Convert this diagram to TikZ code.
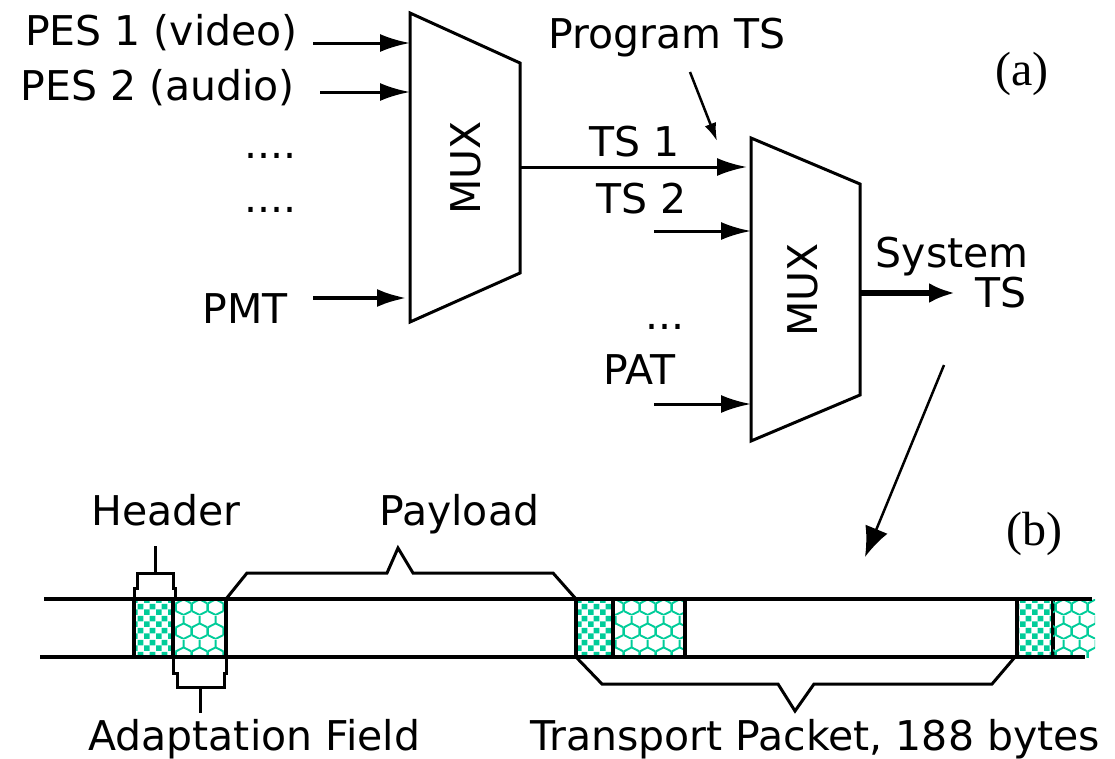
\documentclass[tikz,border=0pt]{standalone}
\usepackage{fontspec}
\setmainfont{DejaVu Sans}
\newfontfamily\partfont{Liberation Serif}
\usetikzlibrary{arrows.meta,patterns.meta}
\definecolor{mint}{RGB}{0,204,153}

\tikzdeclarepattern{
  name=checks,
  type=uncolored,
  bounding box={(0pt,0pt) and (12pt,12pt)},
  tile size={(12pt,12pt)},
  code={
    \fill (0pt,0pt) rectangle (6pt,6pt);
    \fill (6pt,6pt) rectangle (12pt,12pt);
  }
}
\tikzdeclarepattern{
  name=weave,
  type=uncolored,
  bounding box={(0pt,0pt) and (16pt,24pt)},
  tile size={(16pt,24pt)},
  code={
    \draw[line width=2pt] (0pt,4pt) -- (8pt,0pt) -- (16pt,4pt)
      (0pt,12pt) -- (8pt,16pt) -- (16pt,12pt)
      (0pt,4pt) -- (0pt,12pt) (16pt,4pt) -- (16pt,12pt)
      (8pt,16pt) -- (8pt,24pt);
  }
}

\begin{document}
\begin{tikzpicture}[
x=1pt,y=-1pt,
every node/.style={inner sep=0pt,font=\fontsize{41}{49}\selectfont},
feed/.style={line width=3pt,-{Latex[length=30pt,width=18pt]}},
muxbox/.style={line width=3pt,line join=miter},
tag/.style={font=\fontsize{48}{56}\selectfont\partfont},
packet/.style={line width=3.5pt},
brace/.style={line width=3pt},
hdrbox/.style={packet,pattern=checks,pattern color=mint},
adbox/.style={packet,pattern=weave,pattern color=mint},
]
\useasboundingbox (0,0) rectangle (1115,758);

% first MUX
\coordinate (m1nw) at (410,13);
\coordinate (m1ne) at (520,63);
\coordinate (m1se) at (520,273);
\coordinate (m1sw) at (410,322);
\draw[muxbox] (m1nw) -- (m1ne) -- (m1se) -- (m1sw) -- cycle;
\node[rotate=90] (mux1) at (466,168) {MUX};

\node[anchor=base east] (pes1) at (298,45) {PES 1 (video)};
\node[anchor=base east] (pes2) at (295,100) {PES 2 (audio)};
\node[anchor=base east] (dots1) at (297,158) {....};
\node[anchor=base east] (dots2) at (297,212) {....};
\node[anchor=base east] (pmt) at (288,323) {PMT};
\coordinate (pes1in) at (313,43);
\coordinate (pes2in) at (320,92);
\coordinate (pmtin) at (313,298);
\draw[feed] (pes1in) -- (pes1in -| m1nw);
\draw[feed] (pes2in) -- (pes2in -| m1nw);
\draw[feed,line width=4.5pt] (pmtin) -- ([xshift=-3pt]pmtin -| m1nw);

% second MUX
\coordinate (m2nw) at (751,138);
\coordinate (m2ne) at (860,184);
\coordinate (m2se) at (860,395);
\coordinate (m2sw) at (751,441);
\draw[muxbox] (m2nw) -- (m2ne) -- (m2se) -- (m2sw) -- cycle;
\node[rotate=90] (mux2) at (803,290) {MUX};

\node[anchor=base west] (prog) at (548,48) {Program TS};
\node[anchor=base west] (ts1) at (589,156) {TS 1};
\node[anchor=base west] (ts2) at (596,213) {TS 2};
\node[anchor=base west] (dots3) at (645,329) {...};
\node[anchor=base west] (pat) at (603,384) {PAT};
\coordinate (m1out) at (520,167);
\coordinate (ts2in) at (654,231);
\coordinate (patin) at (654,404);
\coordinate (progtail) at (690,72);
\coordinate (progtip) at (717,141);
\draw[feed] (m1out) -- ([xshift=-4pt]m1out -| m2nw);
\draw[feed] (ts2in) -- (ts2in -| m2nw);
\draw[feed] (patin) -- (patin -| m2nw);
\draw[line width=2.5pt,-{Latex[length=18pt,width=12pt]}] (progtail) -- (progtip);

\node[anchor=base east] (sys) at (1029,267) {System};
\node[anchor=base east] (systs) at (1027,307) {TS};
\coordinate (m2out) at (860,293);
\coordinate (sysin) at (955,293);
\draw[line width=5.5pt,-{Latex[length=26pt,width=20pt]}] (m2out) -- (sysin);

\coordinate (drop) at (944,365);
\coordinate (droptip) at (865,557);
\draw[line width=2.5pt,-{Latex[length=30pt,width=24pt]}] (drop) -- (droptip);

\node[tag,anchor=base west] (parta) at (995,85) {(a)};
\node[tag,anchor=base west] (partb) at (1006,545) {(b)};

% transport stream
\foreach \a/\b/\c in {134/173/226, 576/613/685}{
  \draw[hdrbox] (\a,599) rectangle (\b,657);
  \draw[adbox] (\b,599) rectangle (\c,657);
}
\draw[hdrbox] (1017,599) rectangle (1053,657);
\fill[pattern=weave,pattern color=mint] (1053,599) rectangle (1095,657);
\draw[packet] (44,599) -- (1092,599);
\draw[packet] (40,657) -- (1085,657);

% braces
\draw[brace] (134,599) -- (134,588) -- (137,588) -- (137,573) -- (173,573)
  -- (173,588) -- (175,588) -- (175,599);
\draw[brace] (155,573) -- (155,546);
\draw[brace] (226,599) -- (247,573) -- (387,573) -- (398,548) -- (413,573)
  -- (553,573) -- (576,599);
\draw[brace] (173,657) -- (173,673) -- (177,673) -- (177,687) -- (224,687)
  -- (224,673) -- (226,673) -- (226,657);
\draw[brace] (200,687) -- (200,713);
\draw[brace] (576,657) -- (602,684) -- (778,684) -- (795,711) -- (814,684)
  -- (992,684) -- (1015,657);

\node[anchor=base west] (hdr) at (91,525) {Header};
\node[anchor=base west] (pay) at (379,525) {Payload};
\node[anchor=base west] (adapt) at (88,750) {Adaptation Field};
\node[anchor=base west] (tp) at (530,750) {Transport Packet, 188 bytes};
\end{tikzpicture}
\end{document}
